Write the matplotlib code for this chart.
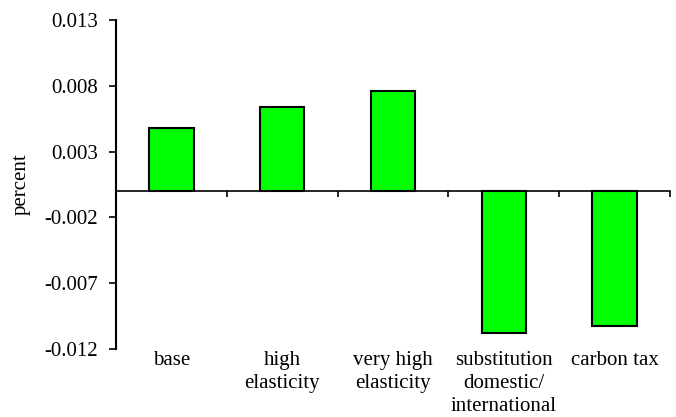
import numpy as np
import matplotlib.pyplot as plt
from matplotlib import transforms

plt.rcParams['font.family'] = ['Liberation Serif', 'DejaVu Serif']

# scenario results, percent change
categories = ['base', 'high\nelasticity', 'very high\nelasticity',
              'substitution\ndomestic/\ninternational', 'carbon tax']
values = [0.00482, 0.0064, 0.00762, -0.01076, -0.01023]
yticks = [-0.012, -0.007, -0.002, 0.003, 0.008, 0.013]

fig = plt.figure(figsize=(6.76, 4.17), dpi=100)
ax = fig.add_axes([0.1716, 0.163, 0.8194, 0.789])

x = np.arange(len(categories))
ax.bar(x, values, width=0.4, color='#00ff00', edgecolor='black', linewidth=1.5, zorder=3)

ax.set_xlim(-0.5, len(categories) - 0.5)
ax.set_ylim(-0.012, 0.013)
ax.set_yticks(yticks)
ax.set_yticklabels([f'{t:.3f}' for t in yticks], fontsize=15)
ax.tick_params(axis='y', direction='out', length=5, width=1.2, pad=8)

# zero line acts as the category axis, with ticks between groups
ax.spines['bottom'].set_position(('data', 0))
ax.spines['bottom'].set_linewidth(1.2)
ax.spines['left'].set_linewidth(1.5)
ax.spines['top'].set_visible(False)
ax.spines['right'].set_visible(False)
ax.set_xticks(np.arange(len(categories) + 1) - 0.5)
ax.set_xticklabels([])
ax.tick_params(axis='x', direction='out', length=4, width=1.2)

# category names under the plot area
trans = transforms.blended_transform_factory(ax.transData, ax.transAxes)
for xi, name in zip(x, categories):
    ax.text(xi, -0.005, name, transform=trans, ha='center', va='top',
            fontsize=15, linespacing=1.28)

ax.set_ylabel('percent', fontsize=15, labelpad=10)

fig.savefig('out.png', dpi=100)
